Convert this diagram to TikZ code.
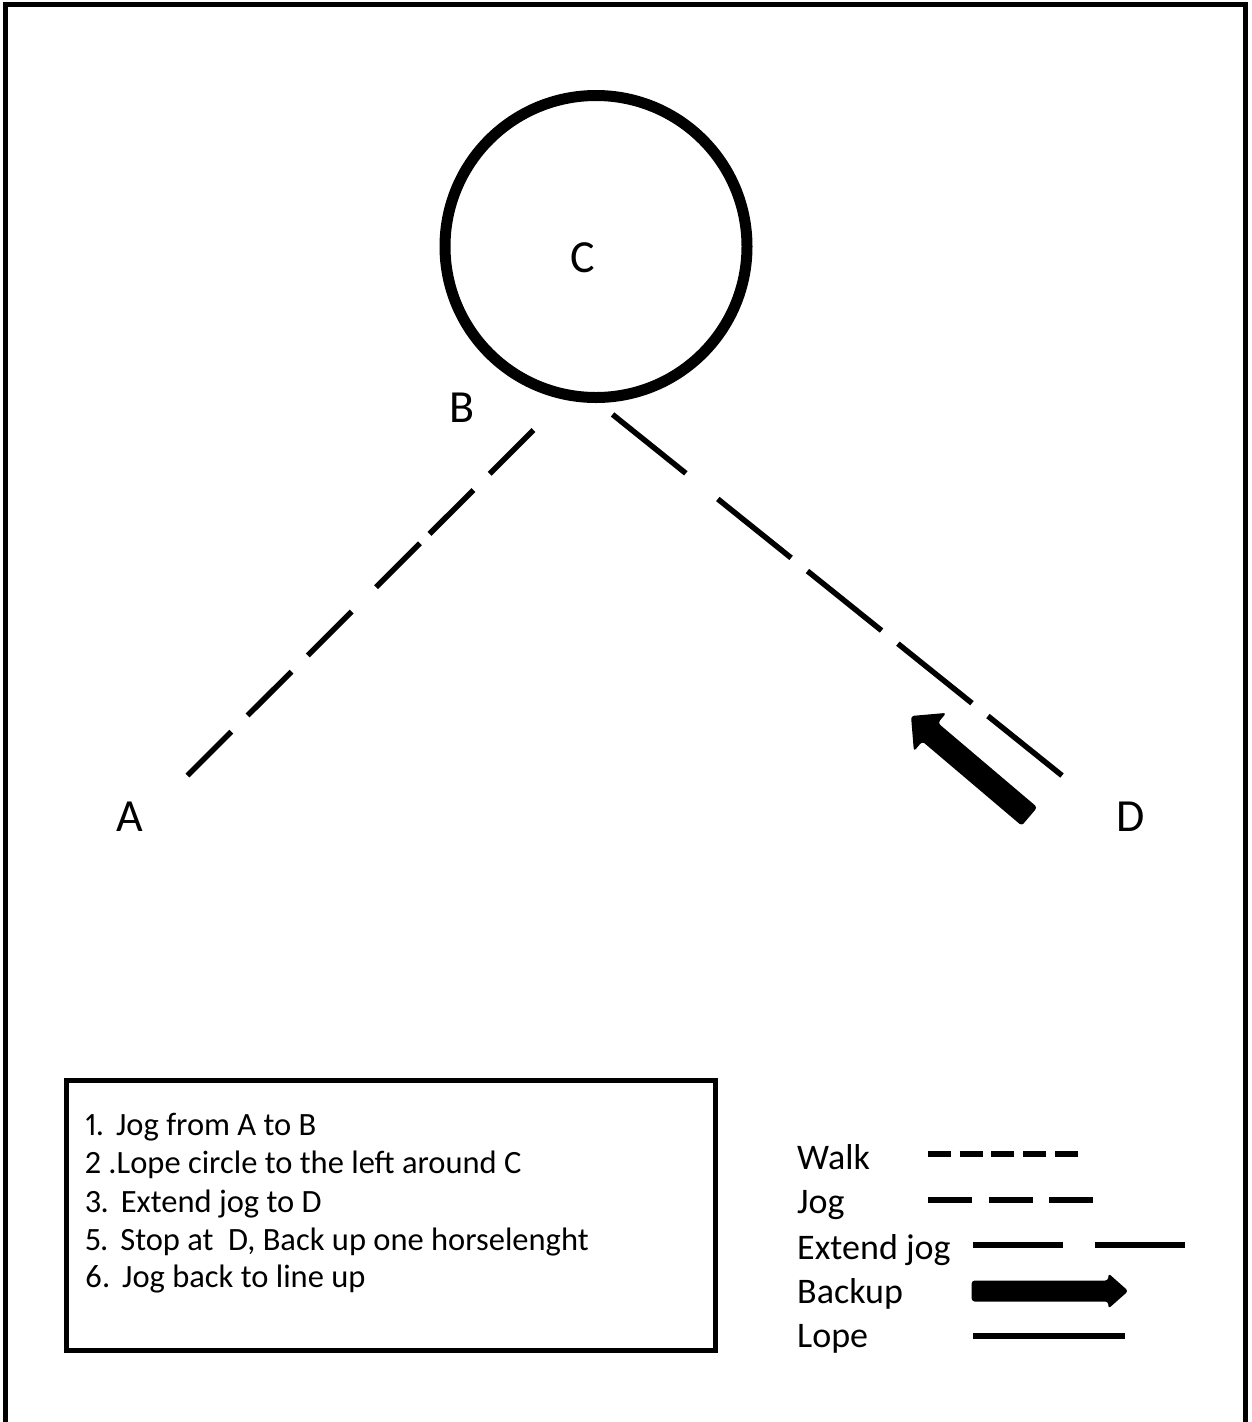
\documentclass[tikz,border=0pt]{standalone}
\usepackage{fontspec}
\setmainfont{Carlito}[Numbers=Proportional]
% fixed gap between a step number and its text
\newcommand{\stepno}[1]{#1\hspace{12pt}}
\begin{document}
\begin{tikzpicture}[x=1pt,y=-1pt,
  frame/.style={line width=5pt},
  lbl/.style={font=\fontsize{46}{55}\selectfont, inner sep=0pt, anchor=center},
  stepitem/.style={font=\fontsize{32.5}{38}\selectfont, inner sep=0pt, anchor=base west},
  keytext/.style={font=\fontsize{36}{42}\selectfont, inner sep=0pt, anchor=base west},
  trail/.style={line width=5.5pt},
  keyline/.style={line width=6pt},
  loopline/.style={line width=11pt},
]
\useasboundingbox (0,0) rectangle (1252,1422);
\fill[white] (0,0) rectangle (1252,1422);

% arena fence (open at the bottom)
\draw[frame] (5.5,1422) -- (5.5,4.5) -- (1245.5,4.5) -- (1245.5,1422);

% lope circle around C
\coordinate (ctr) at (596,246.5);
\draw[loopline] (ctr) circle[radius=151];

% markers
\node[lbl] (C) at (583,257.5) {C};
\node[lbl] (B) at (462,407.5) {B};
\node[lbl] (A) at (130,816.5) {A};
\node[lbl] (D) at (1130.5,816.5) {D};

% jog from A to B
\coordinate (jogA) at (187.5,775.5);
\coordinate (jogB) at (533.5,430);
\draw[trail, dash pattern={on 62pt off 23pt on 62pt off 23pt on 62pt off 34.5pt on 62pt off 13.5pt on 62pt off 23pt on 62pt off 30pt}] (jogA) -- (jogB);

% extended jog to D
\coordinate (extD) at (1062,775.5);
\coordinate (extB) at (612,414);
\draw[trail, dash pattern={on 95pt off 20.5pt on 95pt off 21pt on 95pt off 21pt on 94pt off 41pt on 94pt off 30pt}] (extD) -- (extB);

% back up one horse length at D
\fill[rounded corners=3pt] (1037.3,807.3) -- (937.9,723.0) -- (946.3,712.9)
  -- (911,716) -- (913.9,751.3) -- (922.3,741.4) -- (1021.7,825.7) -- cycle;

% pattern steps
\node[draw, line width=5pt, minimum width=649.5pt, minimum height=270pt,
      inner sep=0pt, outer sep=0pt, anchor=north west] (steps) at (66,1080.5) {};
\node[stepitem] (s1) at (85,1135) {\stepno{1.}Jog from A to B};
\node[stepitem] (s2) at (85,1173) {2 .Lope circle to the left around C};
\node[stepitem] (s3) at (85,1212) {\stepno{3.}Extend jog to D};
\node[stepitem] (s5) at (85,1250) {\stepno{5.}Stop at\ \ D, Back up one horselenght};
\node[stepitem] (s6) at (85,1287) {\stepno{6.}Jog back to line up};

% key
\node[keytext] (kwalk) at (797,1169) {Walk};
\node[keytext] (kjog) at (797,1213) {Jog};
\node[keytext] (kext) at (797,1259) {Extend jog};
\node[keytext] (kback) at (797,1303) {Backup};
\node[keytext] (klope) at (797,1347) {Lope};

\draw[keyline, dash pattern={on 23pt off 8.7pt}] (928,1154) -- (1078,1154);
\draw[keyline, dash pattern={on 44pt off 16.5pt}] (928,1200) -- (1093,1200);
\draw[keyline, dash pattern={on 90pt off 31.7pt}] (973.3,1245) -- (1185,1245);
\fill[rounded corners=3pt] (971.7,1280.5) -- (1108.3,1280.5) -- (1108.3,1273.3)
  -- (1128.3,1291) -- (1108.3,1308.7) -- (1108.3,1301.5) -- (971.7,1301.5) -- cycle;
\draw[keyline] (973.3,1336) -- (1124.5,1336);
\end{tikzpicture}
\end{document}
